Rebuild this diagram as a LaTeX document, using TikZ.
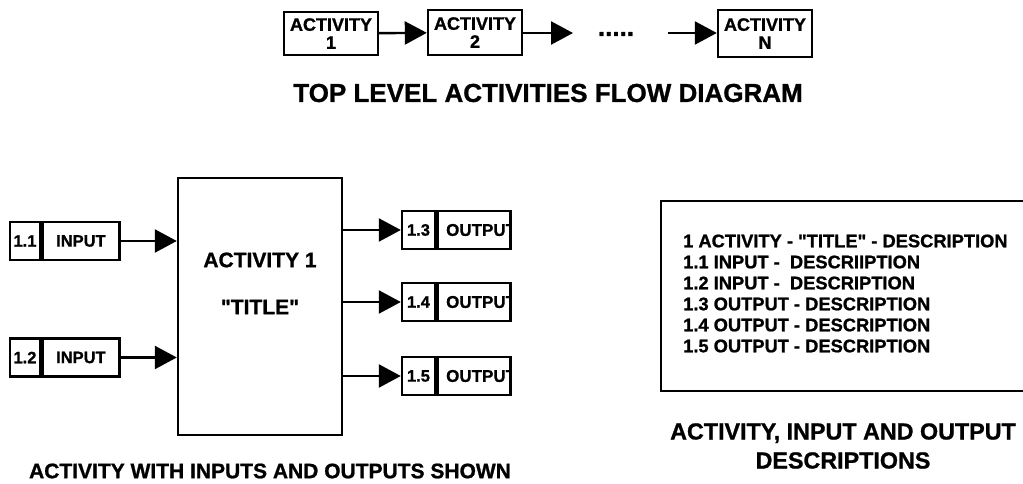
\documentclass[tikz,border=0pt]{standalone}
\usepackage{fontspec}
\setmainfont{Liberation Sans}[Ligatures=TeXOff, BoldFeatures={FakeBold=1}]
\usetikzlibrary{arrows.meta}
\begin{document}
\begin{tikzpicture}[x=1pt,y=-1pt,
  every node/.style={font=\bfseries, inner sep=0pt},
  box/.style={draw, line width=2.4pt},
  topbox/.style={box, minimum width=94pt, align=center, font=\fontsize{18}{18}\bfseries},
  numcell/.style={box, minimum height=38pt, font=\fontsize{16.5}{18}\bfseries},
  lblcell/.style={box, minimum height=38pt, anchor=west, font=\fontsize{16.5}{18}\bfseries},
  flow/.style={line width=2.4pt, -{Triangle[length=22pt,width=23pt]}},
  caption/.style={font=\fontsize{21}{26}\bfseries, align=center},
  desc/.style={anchor=west, font=\fontsize{18.3}{20}\bfseries},
  ]
\useasboundingbox (0,0) rectangle (1023,484);

% ---------- top level flow ----------
\node[topbox, minimum height=43pt] (a1) at (331,33.5) {ACTIVITY\\1};
\node[topbox, minimum height=45pt] (a2) at (475,32.5) {ACTIVITY\\2};
\node[topbox, minimum height=47pt] (aN) at (765,33.5) {ACTIVITY\\N};
\coordinate (e2) at (573,33);
\coordinate (sN) at (668,33);
\node[font=\fontsize{26}{26}\bfseries] (dots) at (616,34) {.....};
\draw[flow] (a1) -- (a2);
\draw[flow] (a2.east |- e2) -- (e2);
\draw[flow] (sN) -- (sN -| aN.west);
\node[caption, font=\fontsize{26}{30}\bfseries] (toptitle) at (548,93) {TOP LEVEL ACTIVITIES FLOW DIAGRAM};

% ---------- activity with inputs and outputs ----------
\node[box, minimum width=164pt, minimum height=257pt] (act) at (260,306.5) {};
\node[font=\fontsize{21}{24}\bfseries] (acttxt) at (260,260) {ACTIVITY 1};
\node[font=\fontsize{21}{24}\bfseries] (acttitle) at (260,307) {"TITLE"};

\node[numcell, minimum width=30pt] (n11) at (25,241) {1.1};
\node[lblcell, minimum width=77pt] (i11) at (n11.east) {INPUT};
\node[numcell, minimum width=30pt] (n12) at (25,357.5) {1.2};
\node[lblcell, minimum width=77pt] (i12) at (n12.east) {INPUT};
\draw[flow] (i11.east) -- (i11.east -| act.west);
\draw[flow] (i12.east) -- (i12.east -| act.west);

\foreach \k/\y in {3/230,4/302,5/376}{
  \node[numcell, minimum width=33pt] (n1\k) at (418.5,\y) {1.\k};
  \node[lblcell, minimum width=73pt,
        path picture={\node[anchor=west, font=\fontsize{17}{18}\bfseries]
          at ([xshift=6pt]path picture bounding box.west) {OUTPUT};}] (o1\k) at (n1\k.east) {};
  \draw[flow] (n1\k.west -| act.east) -- (n1\k.west);
}

\node[caption] (leftcap) at (270,471) {ACTIVITY WITH INPUTS AND OUTPUTS SHOWN};

% ---------- descriptions ----------
\node[box, minimum width=380pt, minimum height=190pt] (descbox) at (851,296) {};
\node[desc] (d1) at (683,241) {1 ACTIVITY - "TITLE" - DESCRIPTION};
\node[desc] (d2) at (683,262) {1.1 INPUT -\ \ DESCRIIPTION};
\node[desc] (d3) at (683,283) {1.2 INPUT -\ \ DESCRIPTION};
\node[desc] (d4) at (683,304) {1.3 OUTPUT - DESCRIPTION};
\node[desc] (d5) at (683,325) {1.4 OUTPUT - DESCRIPTION};
\node[desc] (d6) at (683,346) {1.5 OUTPUT - DESCRIPTION};

\node[caption, font=\fontsize{23.3}{29}\bfseries] (rightcap) at (843,446) {ACTIVITY, INPUT AND OUTPUT\\DESCRIPTIONS};
\end{tikzpicture}
\end{document}
